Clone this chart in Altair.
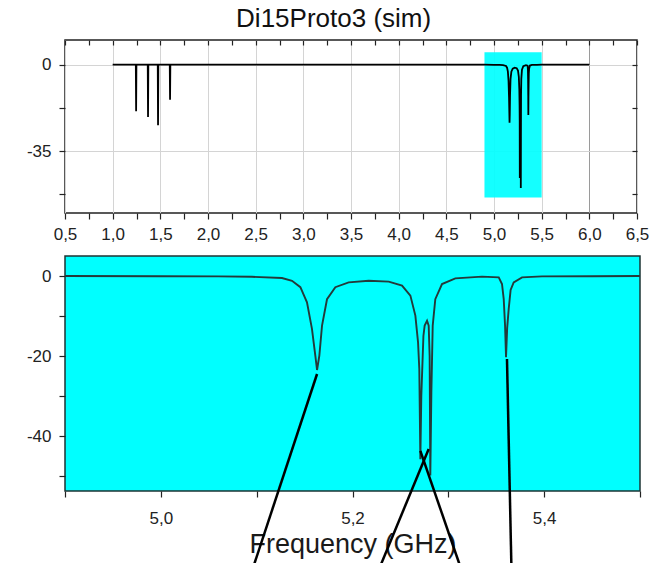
import json
import altair as alt
import pandas as pd

TITLE = "Di15Proto3 (sim)"
X_TITLE = "Frequency (GHz)"
FONT = "Liberation Sans"

# ---- top panel: low-frequency stick-like resonances (GHz, dB)
low_x = [1.0, 1.243, 1.246, 1.249, 1.368, 1.371, 1.374, 1.473, 1.476, 1.479, 1.599, 1.602, 1.605]
low_y = [0.0, 0.0, -18.8, 0.0, 0.0, -21.2, 0.0, 0.0, -24.5, 0.0, 0.0, -14.2, 0.0]

# ---- resonance cluster 4.9-5.5 GHz (both panels)
res_x = [4.90, 5.00, 5.06, 5.095, 5.1264, 5.1369, 5.1456, 5.1525, 5.1577, 5.1612,
         5.1630, 5.1654, 5.1682, 5.1734, 5.1821, 5.1960, 5.2169, 5.2378, 5.2517, 5.2604,
         5.2656, 5.2684, 5.2697, 5.2708, 5.2718, 5.2740, 5.2753, 5.2778, 5.2795, 5.2805,
         5.2812, 5.2823, 5.2837, 5.2864, 5.2934, 5.3073, 5.3351, 5.3526, 5.3560, 5.3578,
         5.3592, 5.3602, 5.3614, 5.3630, 5.3650, 5.3682, 5.3769, 5.3978, 5.45, 5.50]
res_y = [0.0, -0.05, -0.1, -0.2, -0.5, -1.2, -2.8, -6.6, -13.2, -19.9,
         -23.5, -19.9, -12.4, -5.8, -2.8, -1.6, -1.2, -1.4, -2.4, -4.9,
         -9.9, -16.6, -23.2, -45.8, -30.0, -15.0, -12.4, -11.2, -12.4, -20.0,
         -49.9, -29.0, -12.4, -5.8, -2.0, -0.6, -0.15, -0.35, -2.0, -5.8,
         -12.5, -20.3, -13.0, -8.2, -3.5, -1.6, -0.35, -0.1, -0.05, 0.0]

tail_x = [6.0]
tail_y = [0.0]

# ---- axes
top_x_domain = [0.5, 6.5]
top_y_domain = [-60, 10]
top_x_ticks = [0.5, 0.75, 1.0, 1.25, 1.5, 1.75, 2.0, 2.25, 2.5, 2.75, 3.0, 3.25, 3.5,
               3.75, 4.0, 4.25, 4.5, 4.75, 5.0, 5.25, 5.5, 5.75, 6.0, 6.25, 6.5]
top_x_labels = [0.5, 1.0, 1.5, 2.0, 2.5, 3.0, 3.5, 4.0, 4.5, 5.0, 5.5, 6.0, 6.5]
top_y_ticks = [-52.5, -35, -17.5, 0]
top_y_labels = [-35, 0]

zoom_x = [4.9, 5.5]
zoom_y = [-53.75, 5]
bot_x_ticks = [4.9, 5.0, 5.1, 5.2, 5.3, 5.4, 5.5]
bot_x_labels = [5.0, 5.2, 5.4]
bot_y_ticks = [-50, -40, -30, -20, -10, 0]
bot_y_labels = [-40, -20, 0]

# ---- annotation pointer lines (from the dips down past the axis)
ann_x1 = [5.163, 5.2795, 5.2708, 5.3612]
ann_y1 = [-24.5, -43.25, -43.7, -20.75]
ann_x2 = [5.092, 5.2230, 5.3173, 5.3661]
ann_y2 = [-76.0, -76.0, -76.0, -76.0]


def in_list(values):
    return f"indexof({json.dumps(values)}, datum.value) >= 0"


def cond(values, yes, no):
    return {"condition": {"test": in_list(values), "value": yes}, "value": no}


def comma_label(values):
    return f"{in_list(values)} ? replace(format(datum.value, '.1f'), '.', ',') : ''"


def int_label(values):
    return f"{in_list(values)} ? '' + datum.value : ''"


LABEL_COLOR = "#222222"

# ---------------- top panel
df_top = pd.DataFrame({"f": low_x + res_x + tail_x, "v": low_y + res_y + tail_y})
df_rect = pd.DataFrame({"x1": [zoom_x[0]], "x2": [zoom_x[1]], "y1": [zoom_y[0]], "y2": [zoom_y[1]]})

xs_top = alt.Scale(domain=top_x_domain, nice=False, zero=False)
ys_top = alt.Scale(domain=top_y_domain, nice=False, zero=False)

top_rect = alt.Chart(df_rect).mark_rect(color="#00FFFF", opacity=0.92).encode(
    x=alt.X("x1:Q", scale=xs_top,
            axis=alt.Axis(orient="top", values=top_x_ticks, labels=False, grid=False,
                          domain=False, tickSize=5, offset=-5, title=None)),
    x2="x2:Q",
    y=alt.Y("y1:Q", scale=ys_top,
            axis=alt.Axis(orient="right", values=top_y_ticks, labels=False, grid=False,
                          domain=False, tickSize=5, offset=-5, title=None)),
    y2="y2:Q",
)

top_line = alt.Chart(df_top).mark_line(color="black", strokeWidth=1.8).encode(
    x=alt.X("f:Q", scale=xs_top,
            axis=alt.Axis(orient="bottom", values=top_x_ticks, labelExpr=comma_label(top_x_labels),
                          grid=True, gridOpacity=cond(top_x_labels, 1, 0),
                          gridColor=cond([6.0], "#9a9a9a", "#d4d4d4"),
                          tickSize=6, labelPadding=7, labelFlush=False, labelOverlap=False,
                          title=None)),
    y=alt.Y("v:Q", scale=ys_top,
            axis=alt.Axis(orient="left", values=top_y_ticks, labelExpr=int_label(top_y_labels),
                          grid=True, gridOpacity=cond(top_y_labels, 1, 0), gridColor="#d4d4d4",
                          tickSize=6, labelPadding=8, labelFlush=False, labelOverlap=False,
                          title=None)),
)

top = alt.layer(top_rect, top_line).resolve_axis(x="independent", y="independent").properties(
    width=572, height=173
)

# ---------------- bottom panel
df_res = pd.DataFrame({"f": res_x, "v": res_y})
df_ann = pd.DataFrame({"f": ann_x1, "v": ann_y1, "f2": ann_x2, "v2": ann_y2})

xs_bot = alt.Scale(domain=zoom_x, nice=False, zero=False)
ys_bot = alt.Scale(domain=zoom_y, nice=False, zero=False)

bot_x_axis = alt.Axis(orient="bottom", values=bot_x_ticks, labelExpr=comma_label(bot_x_labels),
                      grid=False, tickSize=6, labelPadding=13, labelFlush=False,
                      labelOverlap=False, title=X_TITLE, titleFontSize=27, titleFont=FONT,
                      titleFontWeight="normal", titleColor="#1a1a1a", titlePadding=5)
bot_y_axis = alt.Axis(orient="left", values=bot_y_ticks, labelExpr=int_label(bot_y_labels),
                      grid=False, tickSize=6, labelPadding=8, labelFlush=False,
                      labelOverlap=False, title=None)

bot_line = alt.Chart(df_res).mark_line(color="#243a3a", strokeWidth=1.9).encode(
    x=alt.X("f:Q", scale=xs_bot, axis=bot_x_axis),
    y=alt.Y("v:Q", scale=ys_bot, axis=bot_y_axis),
)

bot_ann = alt.Chart(df_ann).mark_rule(color="black", strokeWidth=2.5).encode(
    x=alt.X("f:Q", scale=xs_bot, axis=bot_x_axis),
    y=alt.Y("v:Q", scale=ys_bot, axis=bot_y_axis),
    x2="f2:Q",
    y2="v2:Q",
)

bottom = alt.layer(bot_line, bot_ann).properties(
    width=575, height=235,
    view=alt.ViewBackground(fill="#00FFFF", stroke="#1c3434", strokeWidth=1.5),
)

chart = (
    alt.vconcat(top, bottom, spacing=12)
    .properties(
        title=alt.TitleParams(TITLE, font=FONT, fontSize=26, fontWeight="normal",
                              color="#111111", anchor="middle", offset=7, dx=-4),
        padding={"left": 25, "top": 5, "right": 5, "bottom": 0},
        background="white",
    )
    .configure_view(stroke="#222222", strokeWidth=1.5)
    .configure_axis(labelFont=FONT, labelFontSize=17, labelColor=LABEL_COLOR,
                    tickColor=LABEL_COLOR, tickWidth=1.2, domain=False)
)

chart.save("out.html", embed_options={"renderer": "svg", "actions": False})
